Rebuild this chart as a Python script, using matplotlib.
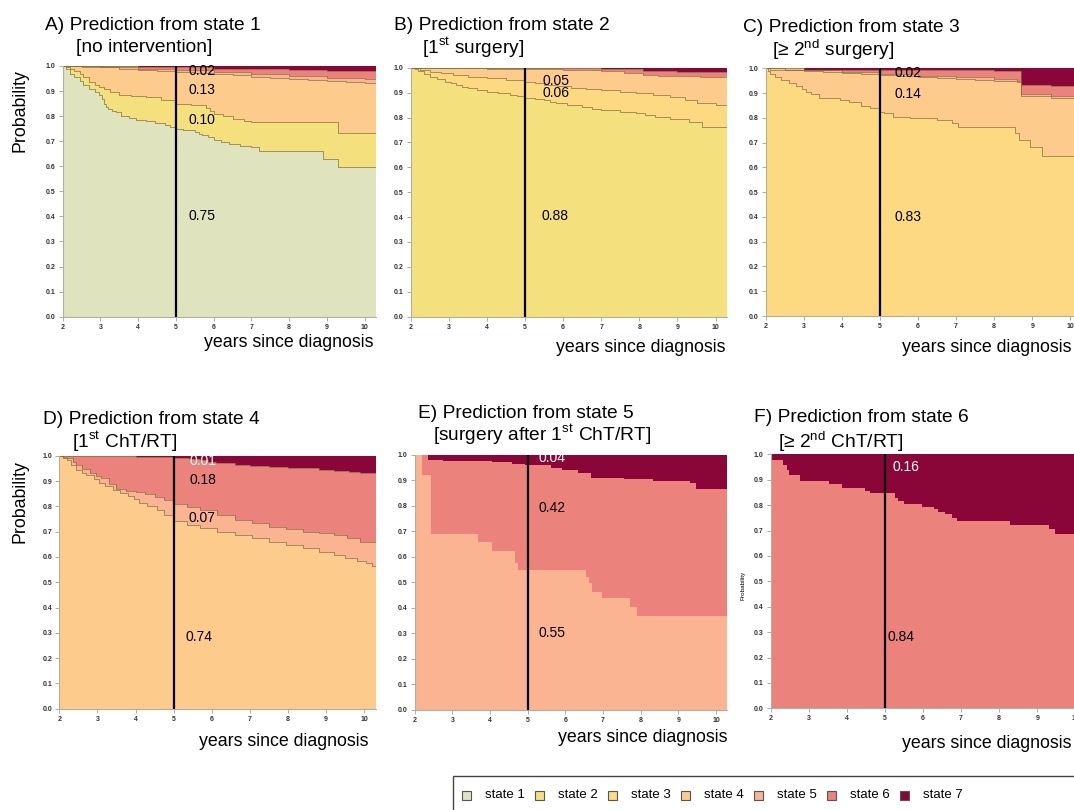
import matplotlib
matplotlib.use("Agg")
import matplotlib.pyplot as plt
from matplotlib.patches import Rectangle

plt.rcParams['font.family'] = ['Liberation Sans', 'DejaVu Sans']
plt.rcParams['mathtext.fontset'] = 'custom'
plt.rcParams['mathtext.rm'] = 'Liberation Sans'

W, H = 1074, 810

# -----------------------------
# Colours and names of the states
# -----------------------------
state_names = ['state 1', 'state 2', 'state 3', 'state 4', 'state 5', 'state 6', 'state 7']
state_colors = ['#DFE3BE', '#F4E07C', '#FDD981', '#FDCB8B', '#FBB491', '#EB827C', '#8B0638']

# -----------------------------
# Data: upper (cumulative) boundary of each state band,
# step curves as (years, probability) pairs
# -----------------------------
# A) from state 1
a_s1 = [(2.0, 1.0), (2.1, 0.99), (2.2, 0.97), (2.3, 0.955), (2.45, 0.94), (2.55, 0.925), (2.7, 0.91),
        (2.85, 0.895), (2.95, 0.885), (3.05, 0.87), (3.1, 0.85), (3.15, 0.835), (3.2, 0.83), (3.3, 0.822),
        (3.4, 0.815), (3.55, 0.8), (3.75, 0.792), (3.95, 0.785), (4.2, 0.78), (4.45, 0.772), (4.7, 0.765),
        (4.85, 0.758), (5.0, 0.75), (5.2, 0.745), (5.5, 0.737), (5.6, 0.73), (5.7, 0.724), (5.85, 0.715),
        (6.0, 0.705), (6.2, 0.698), (6.4, 0.69), (6.7, 0.682), (7.0, 0.675), (7.2, 0.66), (8.9, 0.63),
        (9.3, 0.598), (10.3, 0.598)]
a_s2 = [(2.0, 1.0), (2.1, 0.995), (2.2, 0.99), (2.3, 0.982), (2.45, 0.97), (2.55, 0.958), (2.7, 0.937),
        (2.85, 0.926), (2.95, 0.918), (3.1, 0.908), (3.25, 0.898), (3.5, 0.886), (3.8, 0.882), (4.2, 0.877),
        (4.6, 0.865), (5.0, 0.85), (5.4, 0.843), (5.8, 0.834), (5.9, 0.822), (6.0, 0.81), (6.25, 0.8),
        (6.5, 0.79), (6.8, 0.782), (7.0, 0.777), (9.3, 0.733), (10.3, 0.733)]
a_s4 = [(2.0, 1.0), (2.5, 0.998), (3.0, 0.995), (3.5, 0.99), (4.0, 0.985), (4.5, 0.981), (5.0, 0.977),
        (5.5, 0.972), (6.0, 0.968), (6.5, 0.963), (7.0, 0.958), (7.5, 0.954), (8.0, 0.95), (8.5, 0.945),
        (9.0, 0.94), (9.5, 0.936), (10.0, 0.932), (10.3, 0.93)]
a_s5 = [(2.0, 1.0), (3.0, 0.996), (4.0, 0.99), (5.0, 0.983), (6.0, 0.975), (7.0, 0.968), (8.0, 0.96),
        (9.0, 0.954), (10.0, 0.949), (10.3, 0.948)]
a_s6 = [(2.0, 1.0), (4.0, 0.998), (5.0, 0.995), (6.0, 0.99), (7.0, 0.988), (8.0, 0.985), (9.0, 0.982),
        (10.3, 0.98)]

# B) from state 2
b_s2 = [(2.0, 1.0), (2.1, 0.993), (2.2, 0.985), (2.35, 0.975), (2.5, 0.964), (2.7, 0.953), (2.9, 0.944),
        (3.05, 0.937), (3.2, 0.93), (3.35, 0.922), (3.5, 0.917), (3.75, 0.91), (4.0, 0.904), (4.3, 0.897),
        (4.6, 0.89), (4.8, 0.885), (5.0, 0.88), (5.25, 0.875), (5.5, 0.87), (5.65, 0.863), (5.8, 0.857),
        (6.1, 0.85), (6.5, 0.843), (6.75, 0.836), (7.0, 0.83), (7.5, 0.824), (7.9, 0.817), (8.15, 0.81),
        (8.4, 0.803), (8.8, 0.795), (9.3, 0.783), (9.65, 0.763), (10.3, 0.763)]
b_s3 = [(2.0, 1.0), (2.25, 0.992), (2.5, 0.984), (2.8, 0.977), (3.1, 0.97), (3.5, 0.964), (4.0, 0.957),
        (4.5, 0.95), (5.0, 0.944), (5.25, 0.937), (5.5, 0.93), (5.85, 0.925), (6.2, 0.92), (6.6, 0.915),
        (7.0, 0.91), (7.5, 0.904), (7.9, 0.897), (8.35, 0.89), (8.8, 0.884), (9.2, 0.87), (9.5, 0.857),
        (10.0, 0.85), (10.3, 0.846)]
b_s4 = [(2.0, 1.0), (3.0, 0.998), (4.0, 0.996), (5.0, 0.993), (6.0, 0.99), (7.0, 0.985), (7.6, 0.98),
        (8.1, 0.972), (8.5, 0.968), (9.0, 0.965), (9.6, 0.962), (10.3, 0.96)]
b_s6 = [(2.0, 1.0), (5.0, 0.998), (7.0, 0.995), (8.1, 0.986), (9.0, 0.984), (9.6, 0.982), (10.3, 0.98)]

# C) from state 3
c_s3 = [(2.0, 1.0), (2.05, 0.99), (2.1, 0.975), (2.25, 0.965), (2.4, 0.953), (2.6, 0.94), (2.8, 0.93),
        (2.95, 0.918), (3.05, 0.906), (3.2, 0.895), (3.4, 0.879), (3.95, 0.872), (4.2, 0.862), (4.5, 0.848),
        (4.75, 0.838), (5.0, 0.825), (5.1, 0.818), (5.35, 0.805), (5.8, 0.798), (6.5, 0.79), (6.9, 0.778),
        (7.05, 0.765), (8.5, 0.765), (8.55, 0.738), (8.65, 0.71), (8.95, 0.684), (9.25, 0.646), (10.3, 0.646)]
c_s4 = [(2.0, 1.0), (2.5, 0.995), (3.0, 0.99), (3.5, 0.985), (4.0, 0.98), (4.5, 0.976), (5.0, 0.972),
        (5.5, 0.968), (6.0, 0.965), (6.5, 0.962), (7.0, 0.958), (7.5, 0.954), (8.0, 0.95), (8.6, 0.945),
        (8.7, 0.888), (9.5, 0.88), (10.3, 0.872)]
c_s5 = [(2.0, 1.0), (3.0, 0.992), (4.0, 0.985), (5.0, 0.977), (6.0, 0.97), (7.0, 0.963), (8.0, 0.955),
        (8.6, 0.95), (8.7, 0.895), (9.5, 0.887), (10.3, 0.88)]
c_s6 = [(2.0, 1.0), (2.1, 0.995), (5.0, 0.992), (8.0, 0.99), (8.6, 0.988), (8.7, 0.933), (9.5, 0.93),
        (10.3, 0.927)]

# D) from state 4
d_s4 = [(2.0, 1.0), (2.1, 0.99), (2.2, 0.983), (2.3, 0.965), (2.45, 0.945), (2.6, 0.932), (2.7, 0.924),
        (2.9, 0.908), (3.05, 0.893), (3.2, 0.88), (3.4, 0.864), (3.6, 0.852), (3.8, 0.84), (3.95, 0.828),
        (4.1, 0.815), (4.3, 0.8), (4.55, 0.785), (4.75, 0.765), (5.0, 0.742), (5.35, 0.728), (5.7, 0.713),
        (6.15, 0.7), (6.6, 0.686), (7.05, 0.673), (7.5, 0.66), (7.95, 0.647), (8.4, 0.634), (8.8, 0.62),
        (9.2, 0.607), (9.5, 0.596), (9.8, 0.585), (10.05, 0.575), (10.2, 0.565), (10.3, 0.565)]
d_s5 = [(2.0, 1.0), (2.1, 0.995), (2.2, 0.99), (2.35, 0.975), (2.45, 0.963), (2.6, 0.948), (2.8, 0.93),
        (2.95, 0.92), (3.1, 0.91), (3.3, 0.89), (3.5, 0.868), (3.75, 0.862), (4.0, 0.858), (4.25, 0.848),
        (4.5, 0.838), (4.75, 0.824), (5.0, 0.81), (5.35, 0.798), (5.7, 0.785), (6.15, 0.765), (6.6, 0.746),
        (7.05, 0.733), (7.5, 0.72), (7.95, 0.71), (8.4, 0.70), (8.8, 0.693), (9.2, 0.686), (9.55, 0.675),
        (9.9, 0.66), (10.3, 0.66)]
d_s6 = [(2.0, 1.0), (3.0, 0.998), (4.0, 0.995), (4.5, 0.993), (5.0, 0.99), (5.4, 0.987), (5.7, 0.983),
        (5.9, 0.976), (6.1, 0.97), (6.6, 0.963), (7.0, 0.96), (7.5, 0.957), (8.0, 0.953), (8.4, 0.95),
        (8.8, 0.945), (9.2, 0.94), (9.6, 0.935), (9.9, 0.93), (10.3, 0.93)]

# E) from state 5
e_s5 = [(2.0, 1.0), (2.2, 0.92), (2.42, 0.69), (3.67, 0.658), (4.06, 0.623), (4.67, 0.575), (4.75, 0.548),
        (6.55, 0.522), (6.63, 0.496), (6.72, 0.463), (6.98, 0.437), (7.72, 0.405), (7.9, 0.369), (10.3, 0.369)]
e_s6 = [(2.0, 1.0), (2.36, 0.98), (2.75, 0.978), (4.06, 0.972), (4.58, 0.963), (4.93, 0.96), (5.63, 0.948),
        (5.9, 0.94), (6.33, 0.928), (6.68, 0.908), (7.55, 0.905), (8.33, 0.898), (9.3, 0.889), (9.47, 0.866),
        (10.3, 0.866)]

# F) from state 6
f_s6 = [(2.0, 0.976), (2.33, 0.957), (2.42, 0.937), (2.49, 0.917), (2.77, 0.895), (3.52, 0.882), (3.87, 0.869),
        (4.48, 0.856), (4.6, 0.846), (5.27, 0.827), (5.35, 0.816), (5.49, 0.803), (5.97, 0.794), (6.28, 0.783),
        (6.4, 0.774), (6.58, 0.764), (6.76, 0.751), (6.89, 0.738), (8.29, 0.722), (9.3, 0.706), (9.48, 0.685),
        (10.3, 0.685)]

# Labels printed at 5 years
a_labels = ['0.02', '0.13', '0.10', '0.75']
b_labels = ['0.05', '0.06', '0.88']
c_labels = ['0.02', '0.14', '0.83']
d_labels = ['0.01', '0.18', '0.07', '0.74']
e_labels = ['0.04', '0.42', '0.55']
f_labels = ['0.16', '0.84']

# -----------------------------
# Panel specs (pixel boxes: left, top, right, bottom)
# -----------------------------
panels = [
    dict(box=(62.7, 66.0, 376.0, 316.7),
         bounds=[(1, a_s1), (2, a_s2), (4, a_s4), (5, a_s5), (6, a_s6)], top=7,
         labels=a_labels, lx=[5.32] * 4, ly=[0.98, 0.903, 0.784, 0.40], lc=['k'] * 4,
         t1=('A) Prediction from state 1', 45, 25), t2=('[no intervention]', 76, 47),
         xl=(373, 343), lines=True),
    dict(box=(410.7, 67.7, 727.0, 316.7),
         bounds=[(2, b_s2), (3, b_s3), (4, b_s4), (6, b_s6)], top=7,
         labels=b_labels, lx=[5.47, 5.47, 5.42], ly=[0.946, 0.897, 0.404], lc=['k'] * 3,
         t1=('B) Prediction from state 2', 394, 25), t2=('[1$^{\\mathrm{st}}$ surgery]', 422, 48),
         xl=(726, 347), lines=True),
    dict(box=(765.7, 68.3, 1081.7, 316.0),
         bounds=[(3, c_s3), (4, c_s4), (5, c_s5), (6, c_s6)], top=7,
         labels=c_labels, lx=[5.39] * 3, ly=[0.983, 0.897, 0.40], lc=['k'] * 3,
         t1=('C) Prediction from state 3', 743, 27), t2=('[\u2265 2$^{\\mathrm{nd}}$ surgery]', 772, 50),
         xl=(1072, 347), lines=True),
    dict(box=(59.3, 455.7, 375.7, 708.7),
         bounds=[(4, d_s4), (5, d_s5), (6, d_s6)], top=7,
         labels=d_labels, lx=[5.41, 5.41, 5.39, 5.32], ly=[0.98, 0.904, 0.752, 0.285], lc=['w', 'k', 'k', 'k'],
         t1=('D) Prediction from state 4', 43, 420), t2=('[1$^{\\mathrm{st}}$ ChT/RT]', 72, 442),
         xl=(368, 742), lines=True),
    dict(box=(414.7, 455.0, 727.3, 709.7),
         bounds=[(5, e_s5), (6, e_s6)], top=7,
         labels=e_labels, lx=[5.3] * 3, ly=[0.987, 0.793, 0.30], lc=['w', 'k', 'k'],
         t1=('E) Prediction from state 5', 418, 413), t2=('[surgery after 1$^{\\mathrm{st}}$ ChT/RT]', 433, 435),
         xl=(728, 738), lines=False),
    dict(box=(770.7, 454.3, 1086.7, 708.3),
         bounds=[(6, f_s6)], top=7,
         labels=f_labels, lx=[5.2, 5.07], ly=[0.951, 0.282], lc=['w', 'k'],
         t1=('F) Prediction from state 6', 754, 418), t2=('[\u2265 2$^{\\mathrm{nd}}$ ChT/RT]', 778, 442),
         xl=(1072, 743), lines=False),
]


def fig_box(l, t, r, b):
    return [l / W, 1 - b / H, (r - l) / W, (b - t) / H]


fig = plt.figure(figsize=(W / 100, H / 100), dpi=100)

for p in panels:
    ax = fig.add_axes(fig_box(*p['box']))
    # top state fills the whole area, lower states painted over it
    ax.axhspan(0, 1, color=state_colors[p['top'] - 1], lw=0)
    for s, pts in reversed(p['bounds']):
        t = [q[0] for q in pts]
        v = [q[1] for q in pts]
        ax.fill_between(t, 0, v, step='post', color=state_colors[s - 1], lw=0)
    if p['lines']:
        for s, pts in p['bounds']:
            ax.step([q[0] for q in pts], [q[1] for q in pts], where='post',
                    color='#7d6e3a', lw=0.6, alpha=0.8)
    ax.plot([5, 5], [0, 1], color='black', lw=1.6)
    for txt, x, y, c in zip(p['labels'], p['lx'], p['ly'], p['lc']):
        ax.text(x, y, txt, fontsize=10, color=c, ha='left', va='center')

    ax.set_xlim(2, 10.3)
    ax.set_ylim(0, 1)
    ax.set_xticks(range(2, 11))
    ax.set_yticks([i / 10 for i in range(11)])
    ax.set_yticklabels([f'{i / 10:.1f}' for i in range(11)])
    for side in ['top', 'right']:
        ax.spines[side].set_visible(False)
    for side in ['left', 'bottom']:
        ax.spines[side].set_color('#b0b0a0')
        ax.spines[side].set_linewidth(0.8)
    ax.tick_params(length=3, width=0.6, color='#a0a0a0', labelsize=5, labelcolor='#333333', pad=2)
    for lab in ax.get_xticklabels() + ax.get_yticklabels():
        lab.set_fontweight('bold')

    txt, x, y = p['t1']
    fig.text(x / W, 1 - y / H, txt, fontsize=13.8, ha='left', va='center')
    txt, x, y = p['t2']
    fig.text(x / W, 1 - y / H, txt, fontsize=13.8, ha='left', va='center')
    x, y = p['xl']
    fig.text(x / W, 1 - y / H, 'years since diagnosis', fontsize=12.8, ha='right', va='center')

# y labels
fig.text(20 / W, 1 - 111 / H, 'Probability', fontsize=12.8, rotation=90, ha='center', va='center')
fig.text(20 / W, 1 - 502 / H, 'Probability', fontsize=12.8, rotation=90, ha='center', va='center')
fig.text(743 / W, 1 - 585 / H, 'Probability', fontsize=4.5, rotation=90, ha='center', va='center')

# legend box (runs off the bottom right corner)
fig.patches.append(Rectangle((453 / W, 1 - 830 / H), 640 / W, 54 / H, transform=fig.transFigure,
                             fill=False, edgecolor='#444444', lw=1.0))
for i, (name, col) in enumerate(zip(state_names, state_colors)):
    x0 = 466 + i * 73
    fig.patches.append(Rectangle(((x0 - 4.5) / W, 1 - 799.5 / H), 9 / W, 9 / H, transform=fig.transFigure,
                                 facecolor=col, edgecolor='#555555', lw=0.8))
    fig.text((x0 + 19) / W, 1 - 795 / H, name, fontsize=9.5, ha='left', va='center')

fig.savefig('out.png', dpi=100)
